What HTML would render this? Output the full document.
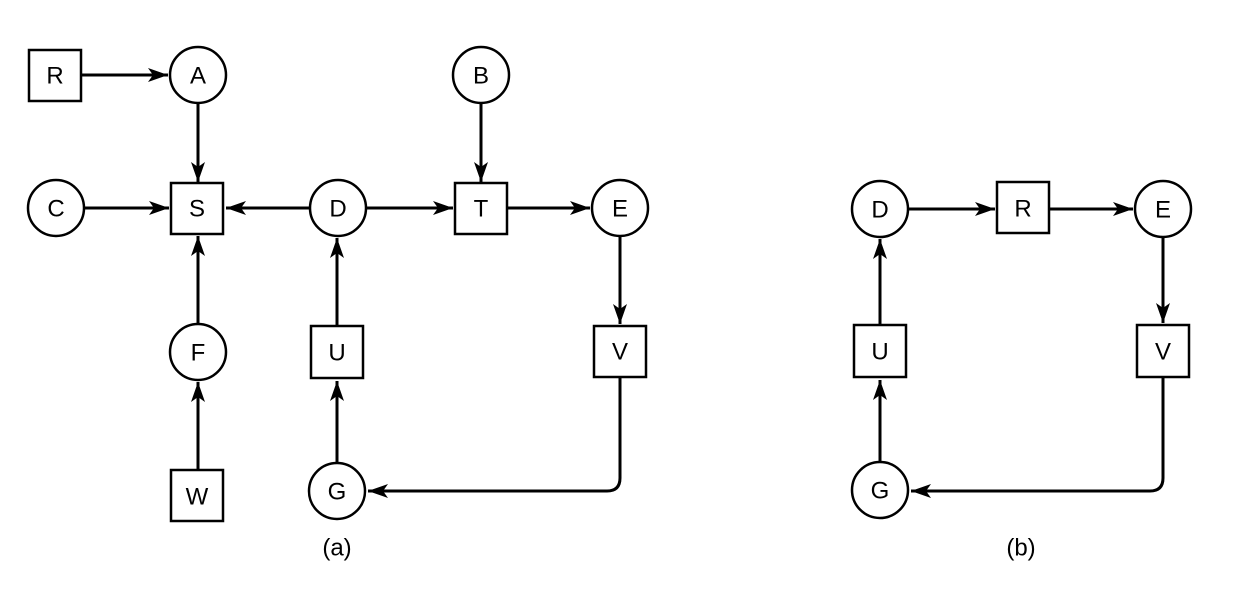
<!DOCTYPE html>
<html><head><meta charset="utf-8"><style>
html,body{margin:0;padding:0;background:#fff;width:1250px;height:596px;overflow:hidden}
text{font-family:"Liberation Sans",sans-serif;font-size:24px;text-anchor:middle;dominant-baseline:central;fill:#000}
</style></head><body>
<svg width="1250" height="596" viewBox="0 0 1250 596" xmlns="http://www.w3.org/2000/svg">
<defs>
<marker id="a" markerUnits="userSpaceOnUse" markerWidth="22" markerHeight="16" refX="20" refY="8" orient="auto">
<path d="M0,1 L20,8 L0,15 L5,8 Z" fill="#000"/>
</marker>
</defs>
<g stroke="#000" stroke-width="2.5" fill="#fff">
<!-- (a) nodes -->
<rect x="29" y="50" width="52" height="51"/>
<circle cx="198" cy="75" r="28"/>
<circle cx="481" cy="75" r="28"/>
<circle cx="56" cy="208" r="28"/>
<rect x="171" y="183" width="52" height="51"/>
<circle cx="338" cy="208" r="28"/>
<rect x="455" y="183" width="52" height="51"/>
<circle cx="620" cy="208" r="28"/>
<circle cx="198" cy="352" r="28"/>
<rect x="311" y="326" width="52" height="52"/>
<rect x="594" y="326" width="52" height="51"/>
<rect x="171" y="470" width="52" height="51"/>
<circle cx="337" cy="491" r="28"/>
<!-- (b) nodes -->
<circle cx="880" cy="209" r="28"/>
<rect x="997" y="182" width="52" height="51"/>
<circle cx="1163" cy="209" r="28"/>
<rect x="854" y="325" width="52" height="52"/>
<rect x="1137" y="325" width="52" height="52"/>
<circle cx="880" cy="490" r="28"/>
</g>
<g stroke="#000" stroke-width="3" fill="none" marker-end="url(#a)">
<line x1="81" y1="75" x2="168" y2="75"/>
<line x1="198" y1="103" x2="198" y2="182"/>
<line x1="481" y1="103" x2="481" y2="182"/>
<line x1="84" y1="208" x2="169" y2="208"/>
<line x1="310" y1="208" x2="226" y2="208"/>
<line x1="366" y1="208" x2="453" y2="208"/>
<line x1="507" y1="208" x2="590" y2="208"/>
<line x1="620" y1="236" x2="620" y2="324"/>
<line x1="198" y1="324" x2="198" y2="236"/>
<line x1="198" y1="470" x2="198" y2="382"/>
<line x1="337" y1="326" x2="337" y2="238"/>
<line x1="337" y1="463" x2="337" y2="381"/>
<path d="M620,377 L620,478 Q620,491 607,491 L368,491"/>
<line x1="908" y1="209" x2="995" y2="209"/>
<line x1="1049" y1="209" x2="1133" y2="209"/>
<line x1="1163" y1="237" x2="1163" y2="323"/>
<line x1="880" y1="325" x2="880" y2="239"/>
<line x1="880" y1="462" x2="880" y2="380"/>
<path d="M1163,377 L1163,478 Q1163,491 1150,491 L911,491"/>
</g>
<text x="55" y="76">R</text>
<text x="198" y="76">A</text>
<text x="481" y="76">B</text>
<text x="56" y="209">C</text>
<text x="197" y="209">S</text>
<text x="338" y="209">D</text>
<text x="481" y="209">T</text>
<text x="620" y="209">E</text>
<text x="198" y="353">F</text>
<text x="337" y="353">U</text>
<text x="620" y="352">V</text>
<text x="197" y="497">W</text>
<text x="337" y="492">G</text>
<text x="880" y="210">D</text>
<text x="1023" y="209">R</text>
<text x="1163" y="210">E</text>
<text x="880" y="352">U</text>
<text x="1163" y="352">V</text>
<text x="880" y="491">G</text>
<text x="337" y="548">(a)</text>
<text x="1021" y="548">(b)</text>
</svg>
</body></html>
